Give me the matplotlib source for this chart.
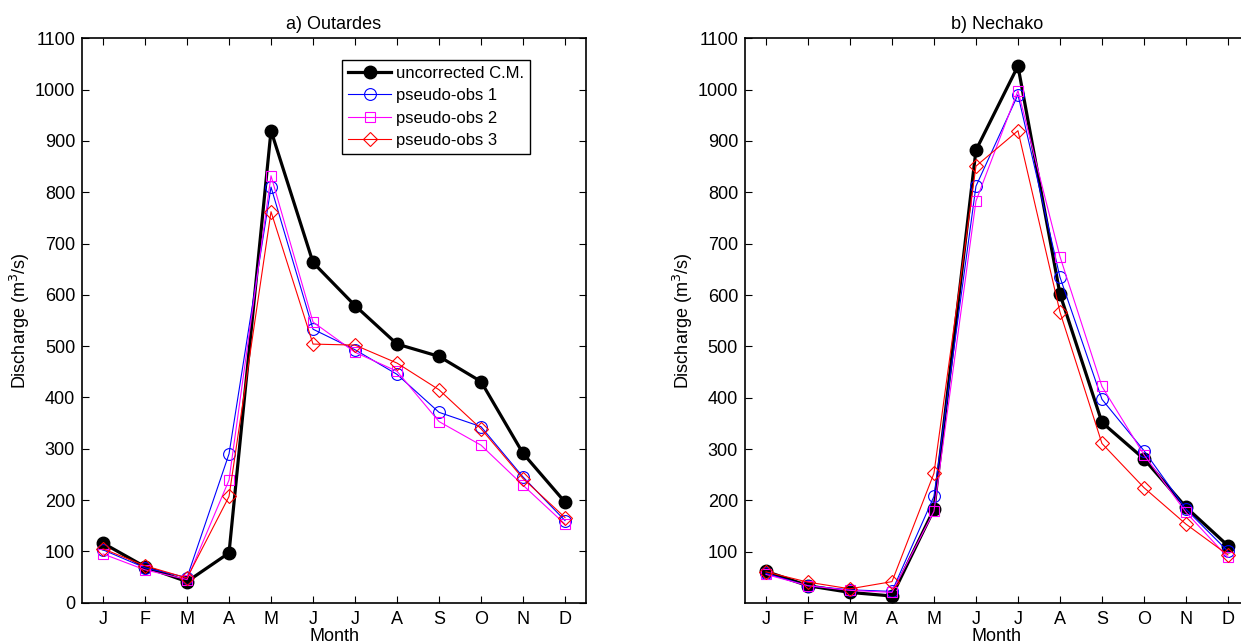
import numpy as np
import matplotlib
matplotlib.use('Agg')
import matplotlib.pyplot as plt

plt.rcParams.update({
    'font.family': ['Liberation Sans', 'DejaVu Sans'],
    'font.size': 13,
    'axes.linewidth': 1.2,
    'xtick.direction': 'in', 'ytick.direction': 'in',
    'xtick.top': True, 'ytick.right': True,
    'xtick.major.size': 5, 'ytick.major.size': 5,
    'xtick.major.width': 0.8, 'ytick.major.width': 0.8,
    'xtick.major.pad': 6, 'ytick.major.pad': 5,
})

months = ['J', 'F', 'M', 'A', 'M', 'J', 'J', 'A', 'S', 'O', 'N', 'D']

# monthly mean discharge, Outardes
out_cm = [116, 70, 41, 97, 920, 663, 579, 504, 480, 431, 291, 196]
out_p1 = [103, 68, 49, 290, 810, 533, 493, 445, 371, 343, 245, 160]
out_p2 = [95, 64, 45, 239, 832, 547, 488, 451, 353, 307, 229, 153]
out_p3 = [105, 72, 48, 207, 762, 504, 502, 467, 415, 339, 242, 166]

# monthly mean discharge, Nechako
nec_cm = [62, 34, 21, 14, 183, 882, 1046, 602, 352, 281, 187, 112]
nec_p1 = [58, 34, 26, 23, 208, 812, 990, 635, 397, 297, 183, 101]
nec_p2 = [56, 34, 25, 21, 179, 783, 998, 675, 422, 289, 177, 89]
nec_p3 = [61, 41, 28, 42, 253, 851, 920, 567, 311, 225, 154, 94]

series_labels = ['uncorrected C.M.', 'pseudo-obs 1', 'pseudo-obs 2', 'pseudo-obs 3']

styles = [
    dict(color='black', lw=2.3, marker='o', ms=9, mfc='black', mec='black'),
    dict(color='blue', lw=0.8, marker='o', ms=8.5, mfc='none', mec='blue', mew=0.8),
    dict(color='magenta', lw=0.8, marker='s', ms=7.5, mfc='none', mec='magenta', mew=0.8),
    dict(color='red', lw=0.8, marker='D', ms=7, mfc='none', mec='red', mew=0.8),
]

fig = plt.figure(figsize=(12.41, 6.43), dpi=100)
ax1 = fig.add_axes([0.0661, 0.0627, 0.4061, 0.8778])
ax2 = fig.add_axes([0.6003, 0.0627, 0.4061, 0.8778])

x = np.arange(1, 13)
panels = [
    (ax1, 'a) Outardes', [out_cm, out_p1, out_p2, out_p3], 0),
    (ax2, 'b) Nechako', [nec_cm, nec_p1, nec_p2, nec_p3], 1),
]

for ax, title, data, ymin in panels:
    for vals, st, lab in zip(data, styles, series_labels):
        ax.plot(x, vals, label=lab, **st)
    ax.set_xlim(0.5, 12.5)
    ax.set_ylim(ymin, 1100)
    ax.set_xticks(x)
    ax.set_xticklabels(months)
    ax.set_yticks(np.arange(0 if ymin == 0 else 100, 1101, 100))
    ax.set_title(title, fontsize=13, pad=7)
    ax.set_xlabel('Month', labelpad=0)
    ax.set_ylabel('Discharge (m$^3$/s)', labelpad=2)

leg = ax1.legend(loc='upper right', bbox_to_anchor=(0.889, 0.962), fontsize=12,
                 fancybox=False, framealpha=1, edgecolor='black',
                 handlelength=2.6, handletextpad=0.3, labelspacing=0.45,
                 borderpad=0.35, borderaxespad=0)
leg.get_frame().set_linewidth(1.0)

plt.savefig('out.png', dpi=100)
